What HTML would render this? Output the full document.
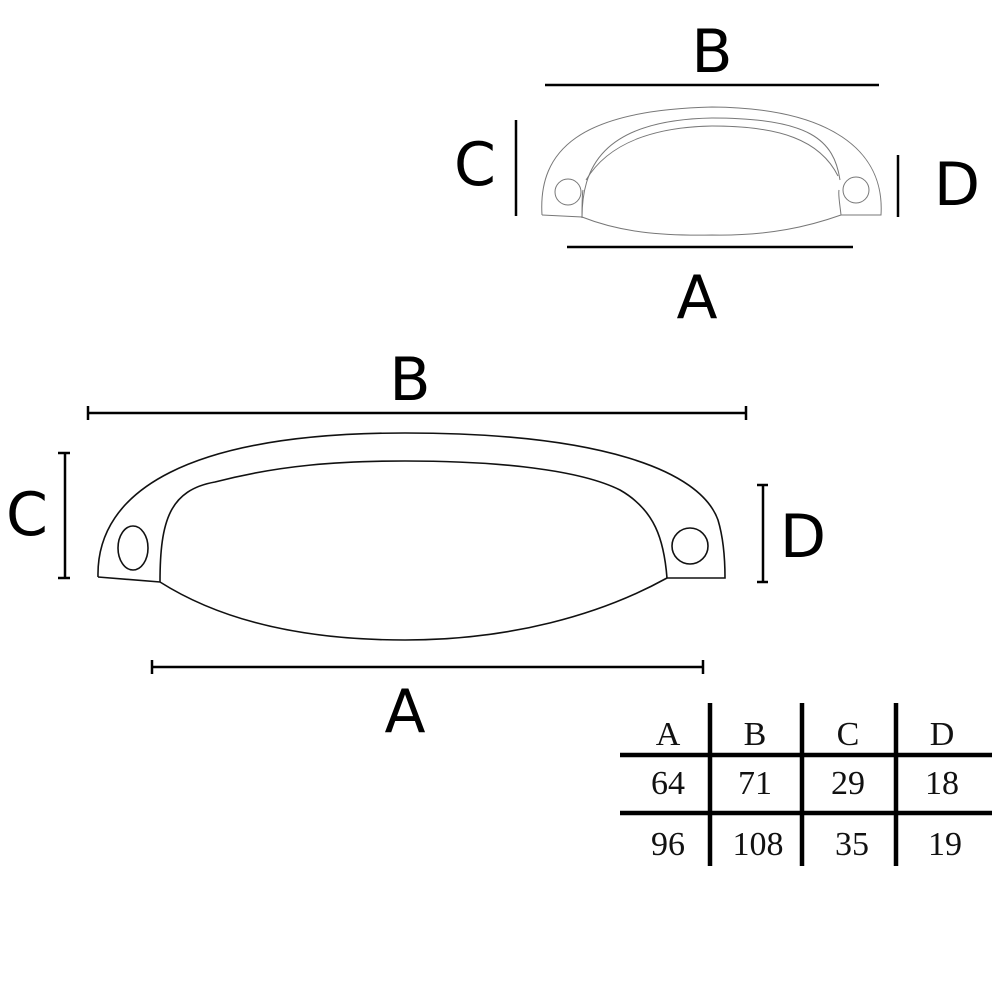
<!DOCTYPE html>
<html><head><meta charset="utf-8"><style>
html,body{margin:0;padding:0;background:#fff;width:1000px;height:1000px;overflow:hidden}
svg{display:block}
.l{font-family:"DejaVu Sans","Liberation Sans",sans-serif;font-size:60px;fill:#000;text-anchor:middle}
.t{font-family:"Liberation Serif",serif;font-size:34px;fill:#111;text-anchor:middle}
</style></head><body>
<svg width="1000" height="1000" viewBox="0 0 1000 1000" xmlns="http://www.w3.org/2000/svg">
<g stroke="#000" fill="none">
<!-- small handle -->
<g stroke="#777" stroke-width="1">
<path d="M542,215 C538,150 580,110 712,107 C830,108 885,150 881,215 L841,215"/>
<path d="M582,218 C582,170 600,120 712,118 C810,118 834,140 840,180"/>
<path d="M586,180 C610,140 660,127 712,126 C780,126 820,140 838,176"/>
<path d="M542,215 L582,217 C620,232 660,236 712,235 C770,236 810,226 841,215 C840,205 838,195 839,190"/>
<path d="M582,217 C582,205 582,195 583,190"/>
<circle cx="568" cy="192" r="13"/>
<circle cx="856" cy="190" r="13"/>
</g>
<g stroke-width="2.5">
<line x1="545" y1="85" x2="879" y2="85"/>
<line x1="516" y1="120" x2="516" y2="216"/>
<line x1="898" y1="155" x2="898" y2="217"/>
<line x1="567" y1="247" x2="853" y2="247"/>
</g>
<!-- large handle -->
<g stroke="#111" stroke-width="1.6">
<path d="M98,577 C96,490 190,433 405,433 C600,433 700,470 718,520 C724,540 725,560 725,578 L667,578"/>
<path d="M98,577 L160,582 C220,620 300,640 405,640 C510,640 600,615 667,578"/>
<path d="M160,582 C160,520 170,490 215,482 C280,465 340,461 405,461 C500,461 580,470 620,490 C655,510 664,540 667,578"/>
<ellipse cx="133" cy="548" rx="15" ry="22"/>
<circle cx="690" cy="546" r="18"/>
</g>
<g stroke-width="2.5">
<line x1="88" y1="413" x2="746" y2="413"/>
<line x1="88" y1="406" x2="88" y2="420"/>
<line x1="746" y1="406" x2="746" y2="420"/>
<line x1="65" y1="453" x2="65" y2="578"/>
<line x1="58" y1="453" x2="70" y2="453"/>
<line x1="58" y1="578" x2="70" y2="578"/>
<line x1="763" y1="485" x2="763" y2="582"/>
<line x1="757" y1="485" x2="768" y2="485"/>
<line x1="757" y1="582" x2="768" y2="582"/>
<line x1="152" y1="667" x2="703" y2="667"/>
<line x1="152" y1="660" x2="152" y2="674"/>
<line x1="703" y1="660" x2="703" y2="674"/>
</g>
<!-- table -->
<g stroke-width="4.5">
<line x1="620" y1="755" x2="992" y2="755"/>
<line x1="620" y1="813" x2="992" y2="813"/>
<line x1="710" y1="703" x2="710" y2="866"/>
<line x1="802" y1="703" x2="802" y2="866"/>
<line x1="896" y1="703" x2="896" y2="866"/>
</g>
</g>
<text class="l" x="712" y="72">B</text>
<text class="l" x="475" y="185">C</text>
<text class="l" x="957" y="205">D</text>
<text class="l" x="697" y="318">A</text>
<text class="l" x="410" y="400">B</text>
<text class="l" x="27" y="535">C</text>
<text class="l" x="803" y="557">D</text>
<text class="l" x="405" y="732">A</text>
<text class="t" x="668" y="745">A</text>
<text class="t" x="755" y="745">B</text>
<text class="t" x="848" y="745">C</text>
<text class="t" x="942" y="745">D</text>
<text class="t" x="668" y="794">64</text>
<text class="t" x="755" y="794">71</text>
<text class="t" x="848" y="794">29</text>
<text class="t" x="942" y="794">18</text>
<text class="t" x="668" y="855">96</text>
<text class="t" x="758" y="855">108</text>
<text class="t" x="852" y="855">35</text>
<text class="t" x="945" y="855">19</text>
</svg>
</body></html>
